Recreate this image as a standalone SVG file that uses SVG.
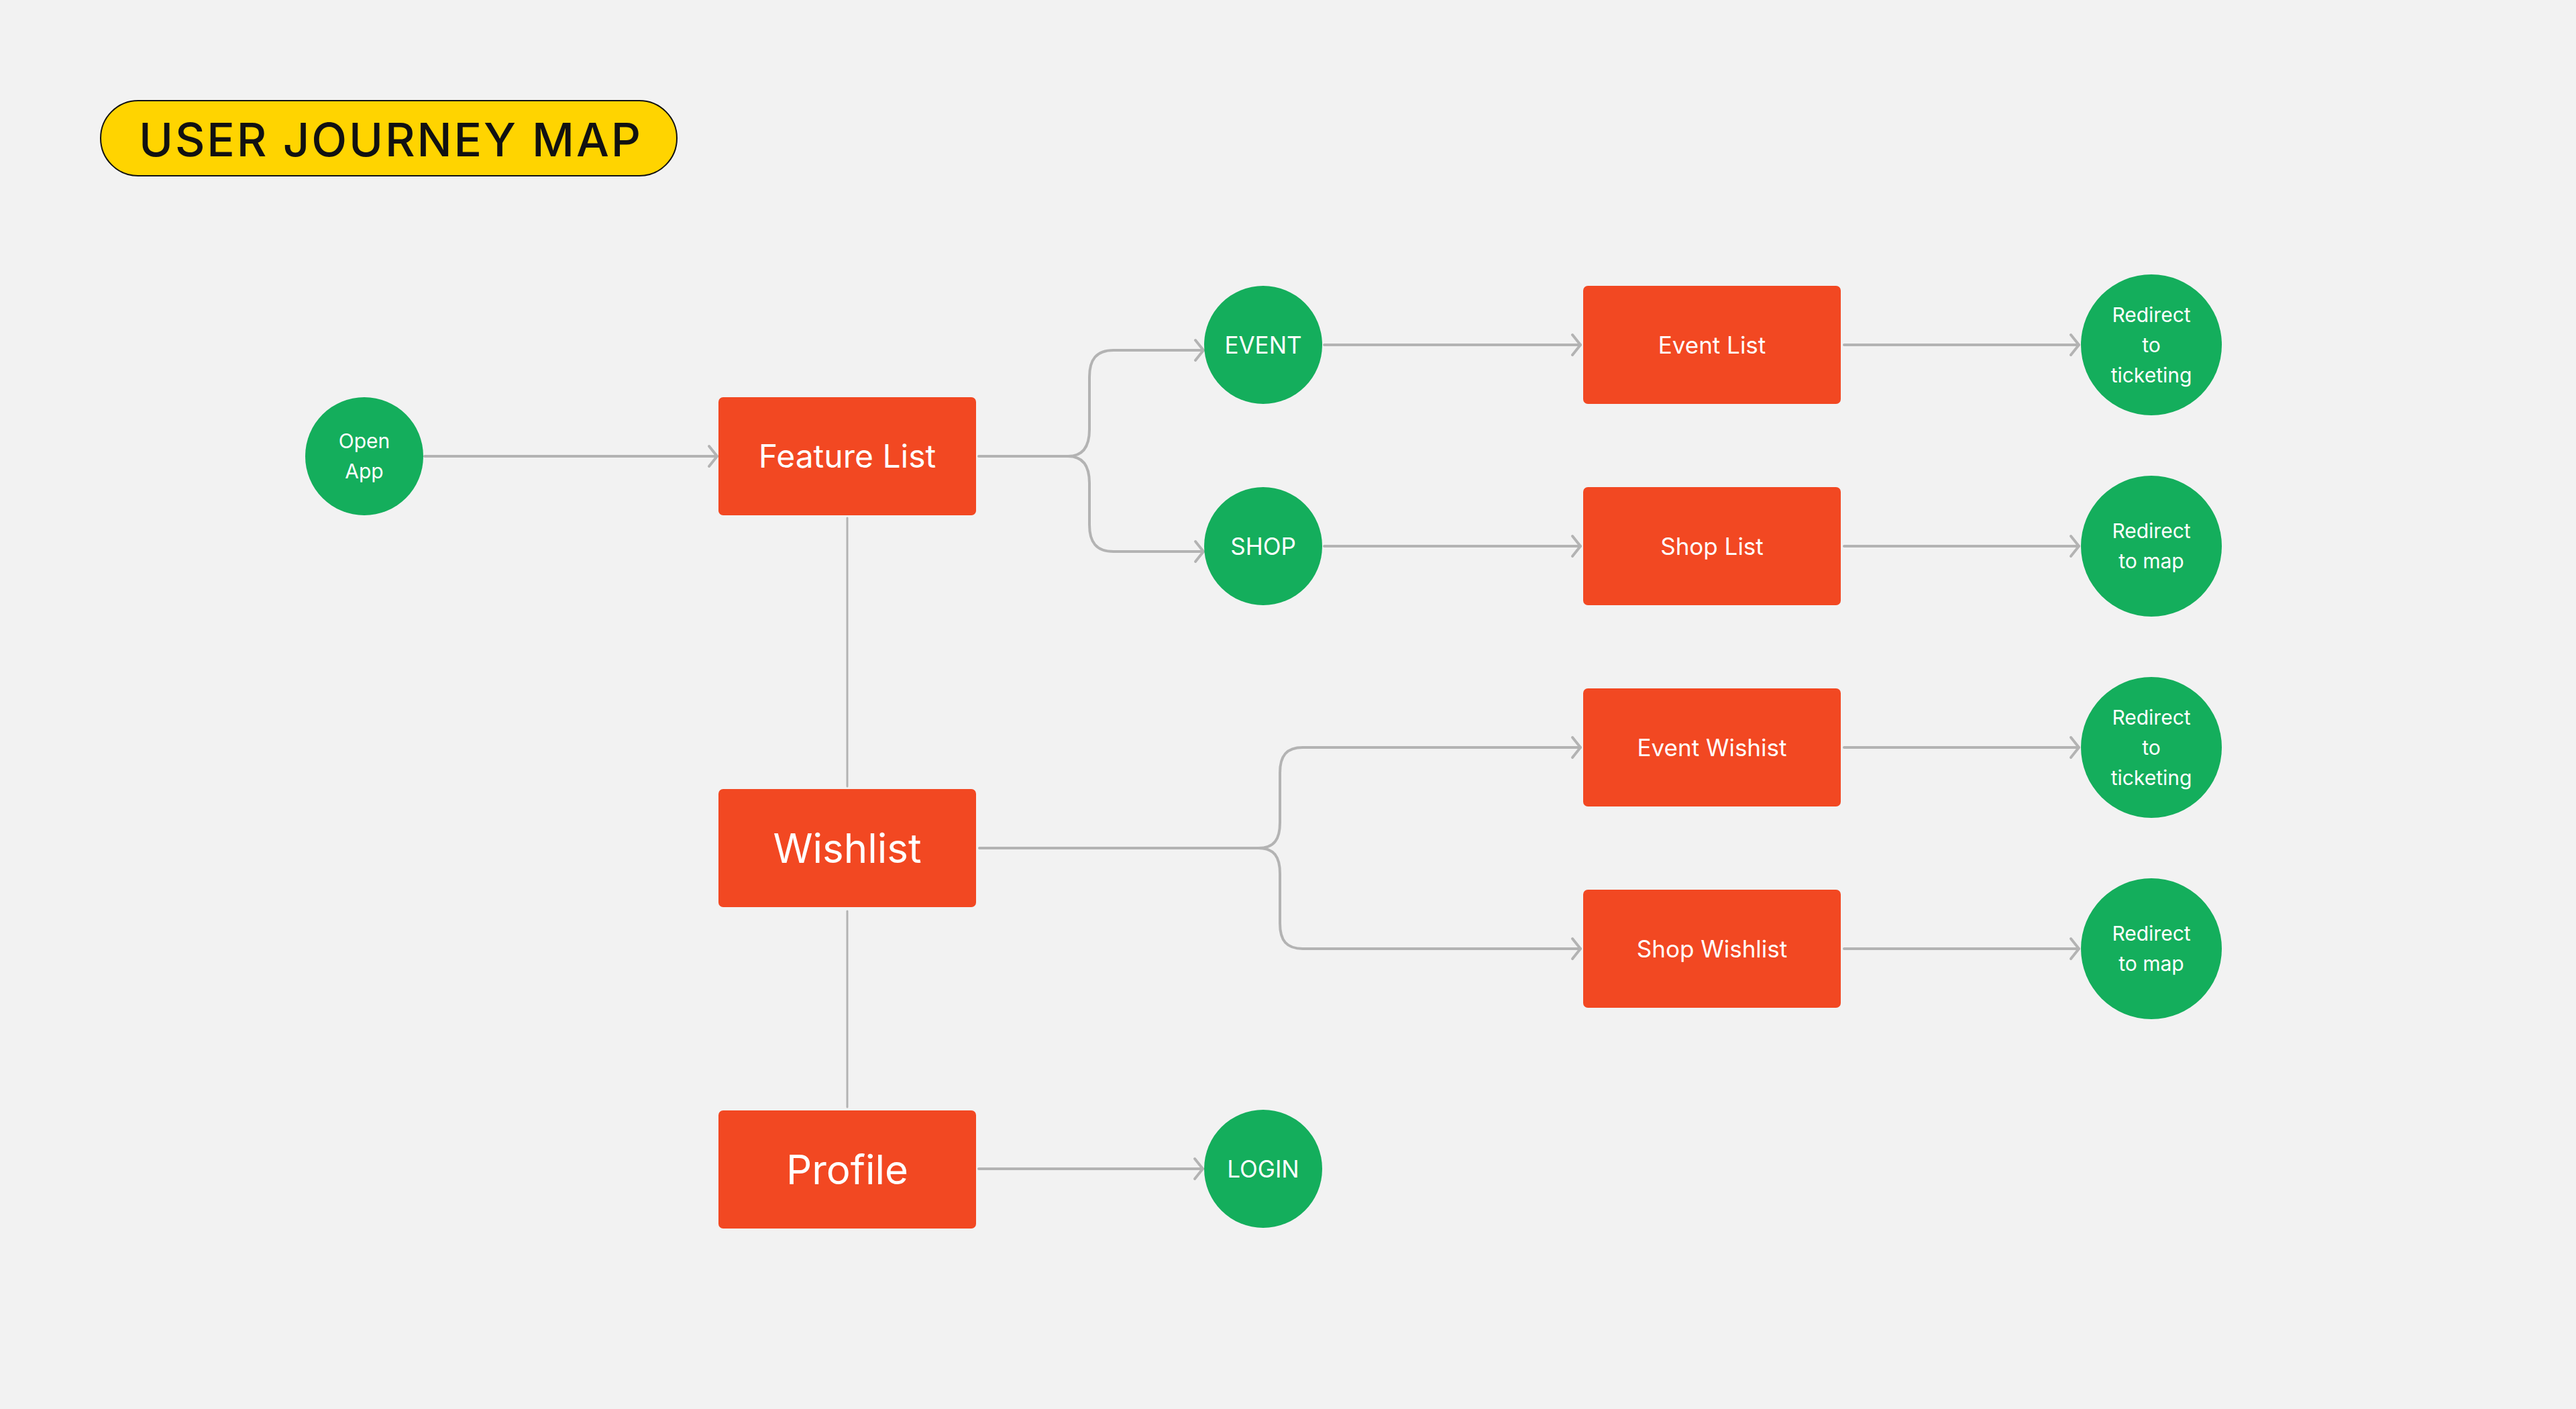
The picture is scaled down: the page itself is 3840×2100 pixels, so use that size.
<svg xmlns="http://www.w3.org/2000/svg" width="3840" height="2100" viewBox="0 0 3840 2100">
<style>
.rect{fill:#F24822}
.circ{fill:#14AE5C}
.t{font-family:Inter,"Liberation Sans",sans-serif;fill:#FFFFFF;text-anchor:middle;font-weight:400}
.s30{font-size:30px}
.s35{font-size:35px}
.s48{font-size:48px}
.s60{font-size:60px}
.conn{fill:none;stroke:#B3B3B3;stroke-width:4;stroke-linecap:round;stroke-linejoin:round}
.plain{fill:none;stroke:#B3B3B3;stroke-width:3;stroke-linecap:round}
</style>
<defs>
<marker id="arr" viewBox="0 0 20 36" refX="16" refY="18" markerWidth="20" markerHeight="36" markerUnits="userSpaceOnUse" orient="auto">
<path d="M4 3 L16 18 L4 33" fill="none" stroke="#B3B3B3" stroke-width="4" stroke-linecap="round" stroke-linejoin="round"/>
</marker>
</defs>
<rect x="0" y="0" width="3840" height="2100" fill="#F2F2F2"/>
<g id="title">
<rect x="150" y="150" width="859" height="112" rx="56" fill="#FFD400" stroke="#111111" stroke-width="2"/>
<text x="581" y="233" font-family="Inter,'Liberation Sans',sans-serif" font-size="69" font-weight="500" fill="#111111" text-anchor="middle" textLength="748" lengthAdjust="spacing">USER JOURNEY MAP</text>
</g>
<g id="connectors">
<path class="conn" d="M633 680 H1069" marker-end="url(#arr)"/>
<path class="conn" d="M1459 680 H1592 C1615 680 1624 664 1624 640 V562 C1624 536 1634 522 1660 522 H1794" marker-end="url(#arr)"/>
<path class="conn" d="M1592 680 C1615 680 1624 696 1624 720 V782 C1624 808 1634 822 1660 822 H1794" marker-end="url(#arr)"/>
<path class="plain" d="M1263 772 V1172"/>
<path class="conn" d="M1974 514 H2356" marker-end="url(#arr)"/>
<path class="conn" d="M2749 514 H3099" marker-end="url(#arr)"/>
<path class="conn" d="M1974 814 H2356" marker-end="url(#arr)"/>
<path class="conn" d="M2749 814 H3099" marker-end="url(#arr)"/>
<path class="conn" d="M1460 1264 H1876 C1900 1264 1908 1250 1908 1226 V1152 C1908 1126 1918 1114 1942 1114 H2356" marker-end="url(#arr)"/>
<path class="conn" d="M1876 1264 C1900 1264 1908 1278 1908 1302 V1376 C1908 1402 1918 1414 1942 1414 H2356" marker-end="url(#arr)"/>
<path class="conn" d="M2749 1114 H3099" marker-end="url(#arr)"/>
<path class="conn" d="M2749 1414 H3099" marker-end="url(#arr)"/>
<path class="plain" d="M1263 1358 V1650"/>
<path class="conn" d="M1459 1742 H1793" marker-end="url(#arr)"/>
</g>
<g id="open-app">
<circle class="circ" cx="543" cy="680" r="88"/>
<text class="t s30" x="543" y="668">Open</text>
<text class="t s30" x="543" y="713">App</text>
</g>
<g id="feature-list">
<rect class="rect" x="1071" y="592" width="384" height="176" rx="7"/>
<text class="t s48" x="1263" y="697">Feature List</text>
</g>
<g id="event">
<circle class="circ" cx="1883" cy="514" r="88"/>
<text class="t s35" x="1883" y="527">EVENT</text>
</g>
<g id="shop">
<circle class="circ" cx="1883" cy="814" r="88"/>
<text class="t s35" x="1883" y="827">SHOP</text>
</g>
<g id="event-list">
<rect class="rect" x="2360" y="426" width="384" height="176" rx="7"/>
<text class="t s35" x="2552" y="527">Event List</text>
</g>
<g id="shop-list">
<rect class="rect" x="2360" y="726" width="384" height="176" rx="7"/>
<text class="t s35" x="2552" y="827">Shop List</text>
</g>
<g id="redirect-ticketing-1">
<circle class="circ" cx="3207" cy="514" r="105"/>
<text class="t s30" x="3207" y="480">Redirect</text>
<text class="t s30" x="3207" y="525">to</text>
<text class="t s30" x="3207" y="570">ticketing</text>
</g>
<g id="redirect-map-1">
<circle class="circ" cx="3207" cy="814" r="105"/>
<text class="t s30" x="3207" y="802">Redirect</text>
<text class="t s30" x="3207" y="847">to map</text>
</g>
<g id="wishlist">
<rect class="rect" x="1071" y="1176" width="384" height="176" rx="7"/>
<text class="t s60" x="1263" y="1286">Wishlist</text>
</g>
<g id="event-wishlist">
<rect class="rect" x="2360" y="1026" width="384" height="176" rx="7"/>
<text class="t s35" x="2552" y="1127">Event Wishist</text>
</g>
<g id="shop-wishlist">
<rect class="rect" x="2360" y="1326" width="384" height="176" rx="7"/>
<text class="t s35" x="2552" y="1427">Shop Wishlist</text>
</g>
<g id="redirect-ticketing-2">
<circle class="circ" cx="3207" cy="1114" r="105"/>
<text class="t s30" x="3207" y="1080">Redirect</text>
<text class="t s30" x="3207" y="1125">to</text>
<text class="t s30" x="3207" y="1170">ticketing</text>
</g>
<g id="redirect-map-2">
<circle class="circ" cx="3207" cy="1414" r="105"/>
<text class="t s30" x="3207" y="1402">Redirect</text>
<text class="t s30" x="3207" y="1447">to map</text>
</g>
<g id="profile">
<rect class="rect" x="1071" y="1655" width="384" height="176" rx="7"/>
<text class="t s60" x="1263" y="1765">Profile</text>
</g>
<g id="login">
<circle class="circ" cx="1883" cy="1742" r="88"/>
<text class="t s35" x="1883" y="1755">LOGIN</text>
</g>
</svg>
